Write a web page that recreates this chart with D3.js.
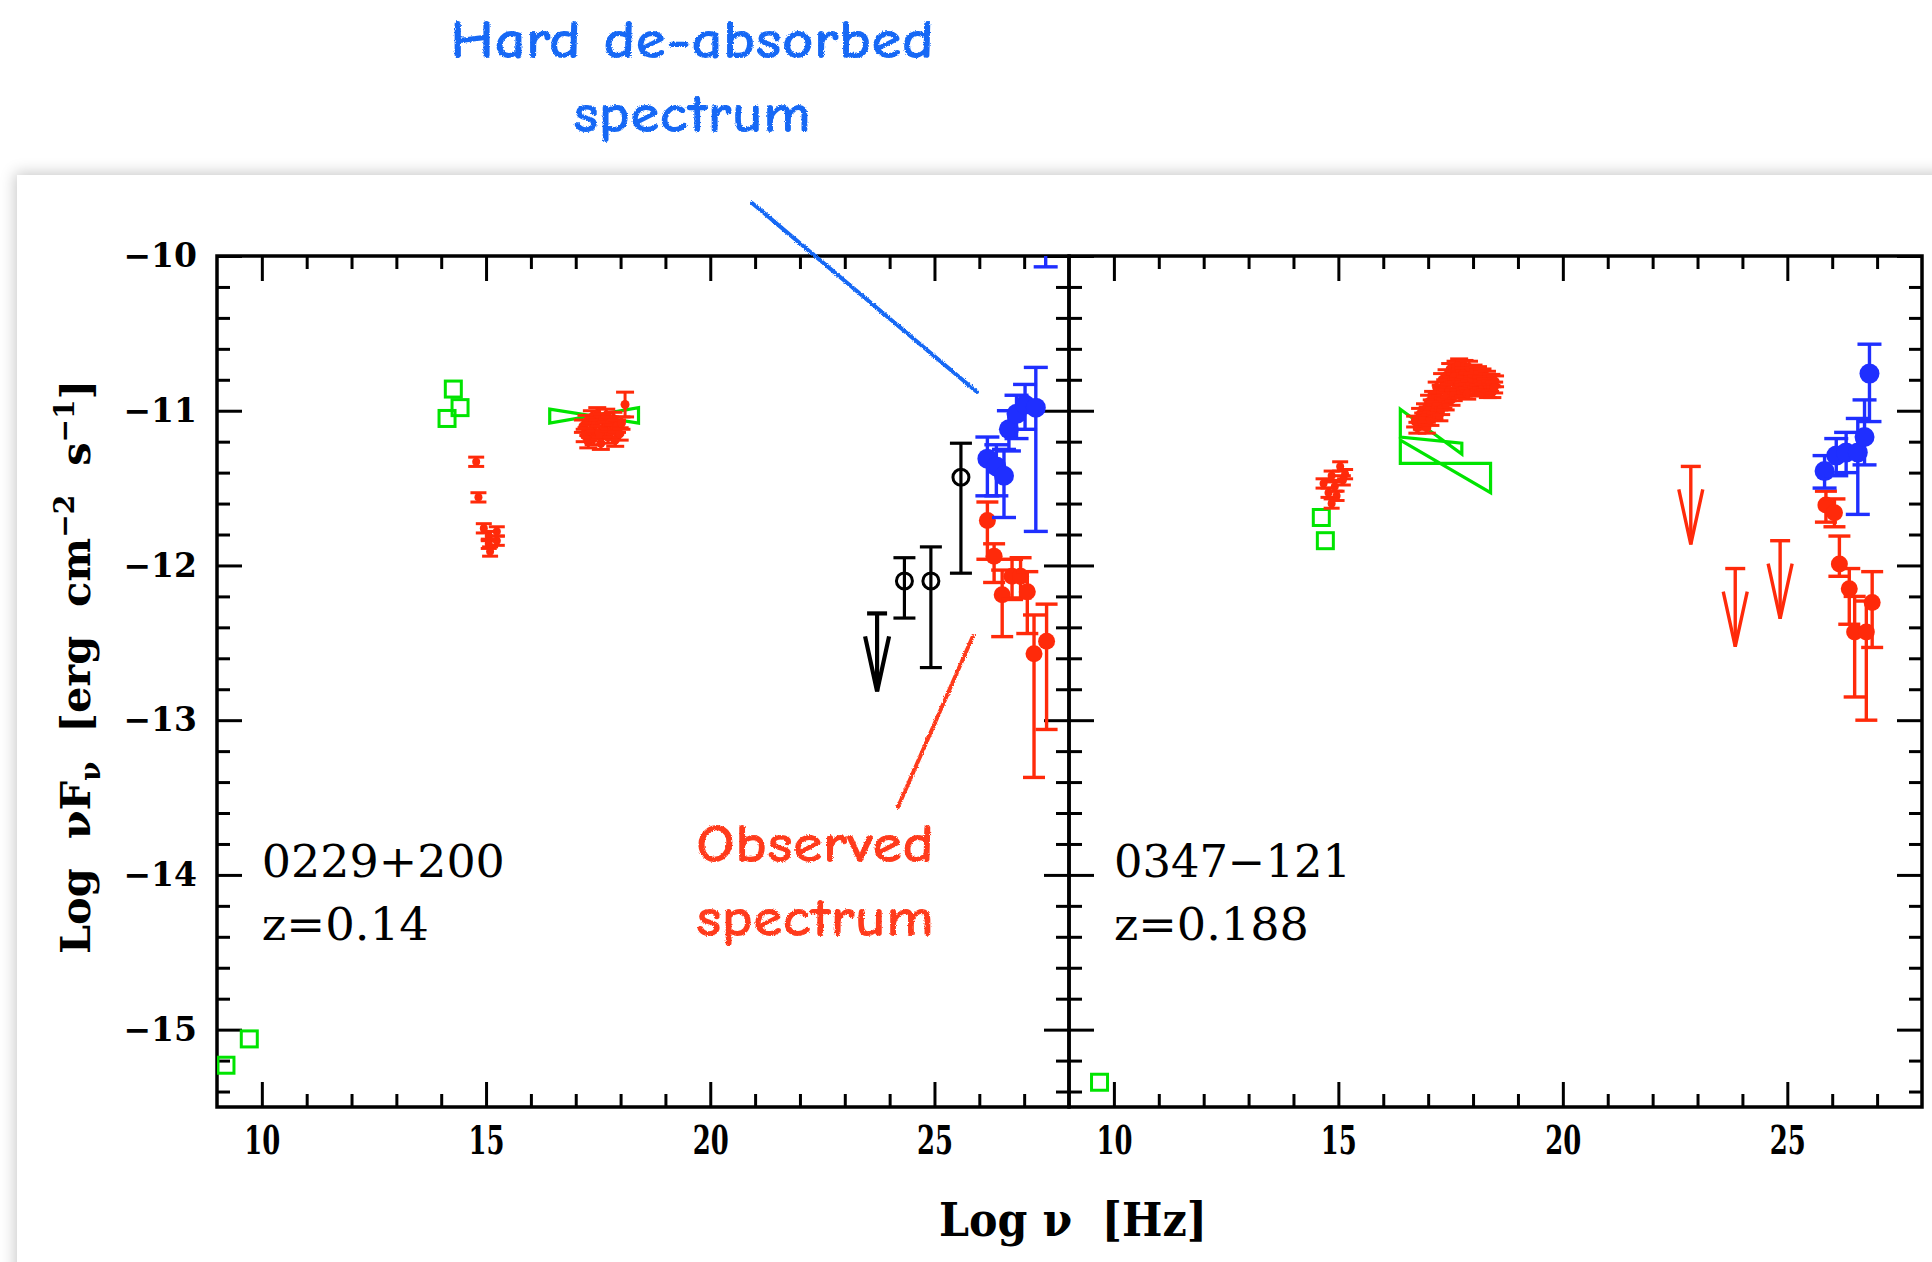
<!DOCTYPE html>
<html>
<head>
<meta charset="utf-8">
<script src="https://cdn.jsdelivr.net/npm/d3@7"></script>
<style>
  html, body { margin: 0; padding: 0; background: #fff; width: 1932px; height: 1262px; overflow: hidden; }
  #card { position: absolute; left: 17px; top: 175px; width: 2000px; height: 1200px; background: #fff;
          box-shadow: 0 0 14px 2px rgba(0,0,0,0.22); }
  svg { position: absolute; left: 0; top: 0; }
</style>
</head>
<body>
<div id="card"></div>
<svg id="chart" width="1932" height="1262"></svg>
<script>
// ---------- axes ----------
const xDomain = [9, 28];
const yDomain = [-15.5, -10];
const xTickLabels = [10, 15, 20, 25];
const yTickLabels = [-15, -14, -13, -12, -11, -10];

// ---------- 0229+200 ----------
const src1Name = "0229+200";
const src1Redshift = "z=0.14";
// radio / optical archival points [logNu, logNuFnu]
const src1Archival = [[14.13, -11.05], [14.27, -10.86], [14.42, -10.98], [9.20, -15.23], [9.72, -15.06]];
// X-ray bow-ties [x1, x2, yLeftTop, yLeftBottom, yRightTop, yRightBottom]
const src1Bowties = [[16.42, 18.40, -10.99, -11.08, -10.98, -11.08]];
// optical-UV [x, y, yLow, yHigh]
const src1Optical = [
  [14.78, -11.33, -11.36, -11.30], [14.83, -11.56, -11.59, -11.53], [14.95, -11.76, -11.79, -11.73],
  [15.24, -11.78, -11.81, -11.75], [15.06, -11.81, -11.84, -11.78], [15.24, -11.84, -11.87, -11.81],
  [15.06, -11.86, -11.89, -11.83], [15.09, -11.91, -11.94, -11.88]
];
// X-ray spectrum [x, y, yError]
const src1Xray = [
  [17.16, -11.10, 0.04], [17.20, -11.16, 0.04], [17.24, -11.07, 0.04], [17.28, -11.20, 0.04],
  [17.32, -11.13, 0.04], [17.36, -11.04, 0.04], [17.40, -11.18, 0.04], [17.44, -11.09, 0.04],
  [17.48, -11.02, 0.04], [17.52, -11.14, 0.04], [17.56, -11.21, 0.04], [17.60, -11.06, 0.04],
  [17.64, -11.12, 0.04], [17.68, -11.03, 0.04], [17.72, -11.17, 0.04], [17.76, -11.08, 0.04],
  [17.80, -11.13, 0.04], [17.84, -11.05, 0.04], [17.88, -11.19, 0.04], [17.92, -11.10, 0.04],
  [17.98, -11.15, 0.04], [18.02, -11.08, 0.04], [18.10, -10.96, 0.08]
];
// GeV points [x, y, yLow, yHigh] and upper limits [x, y]
const src1Gev = [[24.33, -12.10, -12.34, -11.95], [24.92, -12.10, -12.66, -11.88], [25.59, -11.43, -12.05, -11.21]];
const src1GevUL = [[23.72, -12.31]];
// TeV observed [x, y, yLow, yHigh]
const src1Observed = [
  [26.18, -11.71, -11.96, -11.59], [26.33, -11.94, -12.11, -11.86], [26.51, -12.19, -12.46, -12.03],
  [26.73, -12.07, -12.22, -11.96], [26.92, -12.07, -12.21, -11.95], [27.07, -12.17, -12.44, -12.04],
  [27.22, -12.57, -13.37, -12.32], [27.50, -12.49, -13.06, -12.25]
];
// TeV de-absorbed [x, y, yLow, yHigh]
const src1Deabsorbed = [
  [26.18, -11.31, -11.55, -11.17], [26.38, -11.36, -11.55, -11.22], [26.55, -11.42, -11.69, -11.25],
  [26.66, -11.12, -11.26, -11.00], [26.83, -11.02, -11.18, -10.90], [27.02, -10.96, -11.12, -10.83],
  [27.26, -10.98, -11.78, -10.72], [27.48, -9.72, -10.07, -9.40]
];

// ---------- 0347-121 ----------
const src2Name = "0347\u2212121";
const src2Redshift = "z=0.188";
const src2Archival = [[14.62, -11.69], [14.71, -11.84], [9.68, -15.34]];
const src2Bowties = [
  [16.38, 17.75, -10.99, -11.17, -11.21, -11.28],
  [16.38, 18.39, -11.19, -11.34, -11.34, -11.53]
];
const src2Optical = [
  [15.04, -11.36, -11.39, -11.33], [15.15, -11.41, -11.44, -11.38], [14.85, -11.42, -11.45, -11.39],
  [14.67, -11.47, -11.50, -11.44], [14.92, -11.49, -11.52, -11.46], [14.78, -11.53, -11.56, -11.50],
  [14.96, -11.55, -11.58, -11.52], [14.85, -11.60, -11.63, -11.57], [15.10, -11.45, -11.48, -11.42]
];
const src2Xray = [
  [16.71, -11.07, 0.035], [16.76, -11.11, 0.035],
  [16.82, -11.02, 0.035], [16.86, -11.08, 0.04],
  [16.93, -10.99, 0.035], [16.89, -11.05, 0.035], [16.97, -11.11, 0.035],
  [17.02, -10.94, 0.04], [16.99, -11.01, 0.035], [17.05, -11.06, 0.035],
  [17.11, -10.91, 0.035], [17.08, -10.97, 0.04], [17.14, -11.02, 0.035],
  [17.19, -10.85, 0.035], [17.23, -10.92, 0.04], [17.17, -10.98, 0.035], [17.25, -11.03, 0.035],
  [17.31, -10.80, 0.04], [17.28, -10.87, 0.035], [17.34, -10.95, 0.035], [17.29, -10.99, 0.035],
  [17.41, -10.77, 0.035], [17.38, -10.84, 0.04], [17.44, -10.90, 0.035], [17.39, -10.96, 0.035],
  [17.49, -10.73, 0.035], [17.53, -10.80, 0.035], [17.47, -10.87, 0.04], [17.52, -10.93, 0.035],
  [17.61, -10.72, 0.04], [17.58, -10.78, 0.035], [17.63, -10.85, 0.035], [17.57, -10.90, 0.035],
  [17.69, -10.70, 0.035], [17.72, -10.77, 0.04], [17.67, -10.83, 0.035], [17.73, -10.88, 0.035],
  [17.81, -10.71, 0.035], [17.78, -10.76, 0.035], [17.83, -10.82, 0.04], [17.79, -10.87, 0.035],
  [17.91, -10.72, 0.04], [17.88, -10.79, 0.035], [17.93, -10.84, 0.035], [17.87, -10.89, 0.035],
  [18.01, -10.74, 0.035], [17.98, -10.80, 0.04], [18.03, -10.86, 0.035],
  [18.11, -10.75, 0.035], [18.08, -10.81, 0.035], [18.13, -10.87, 0.035],
  [18.21, -10.77, 0.04], [18.18, -10.82, 0.035], [18.23, -10.86, 0.035],
  [18.31, -10.78, 0.035], [18.28, -10.83, 0.035], [18.33, -10.88, 0.035],
  [18.41, -10.80, 0.035], [18.38, -10.84, 0.035], [18.43, -10.88, 0.035],
  [18.49, -10.81, 0.035], [18.47, -10.85, 0.035]
];
const src2Gev = [];
const src2ObservedUL = [[22.85, -11.36], [23.84, -12.02], [24.84, -11.84]];
const src2Observed = [
  [25.86, -11.61, -11.72, -11.52], [26.05, -11.66, -11.75, -11.57], [26.16, -11.99, -12.07, -11.81],
  [26.38, -12.15, -12.38, -12.02], [26.50, -12.43, -12.85, -12.20], [26.76, -12.43, -13.00, -12.23],
  [26.89, -12.24, -12.53, -12.04]
];
const src2Deabsorbed = [
  [25.83, -11.39, -11.50, -11.29], [26.09, -11.29, -11.42, -11.18], [26.31, -11.27, -11.40, -11.14],
  [26.57, -11.27, -11.67, -11.05], [26.72, -11.17, -11.35, -10.93], [26.83, -10.76, -11.07, -10.57]
];

// ---------- layout ----------
const panelTop = 256, panelBottom = 1107;
const panels = [
  { left: 217, right: 1069, name: src1Name, z: src1Redshift, archival: src1Archival, bowties: src1Bowties,
    optical: src1Optical, xray: src1Xray, gev: src1Gev, gevUL: src1GevUL, obsUL: [],
    observed: src1Observed, deabs: src1Deabsorbed, yLabels: true },
  { left: 1069, right: 1922, name: src2Name, z: src2Redshift, archival: src2Archival, bowties: src2Bowties,
    optical: src2Optical, xray: src2Xray, gev: src2Gev, gevUL: [], obsUL: src2ObservedUL,
    observed: src2Observed, deabs: src2Deabsorbed, yLabels: false }
];

const GREEN = "#00e400", RED = "#ff2a0a", BLUE = "#1f2fff", BLACK = "#000";
const svg = d3.select("#chart");
const defs = svg.append("defs");

const rough = defs.append("filter").attr("id", "rough").attr("x", "-5%").attr("y", "-20%")
  .attr("width", "110%").attr("height", "140%");
rough.append("feTurbulence").attr("type", "fractalNoise").attr("baseFrequency", 0.9)
  .attr("numOctaves", 2).attr("seed", 3).attr("result", "noise");
rough.append("feDisplacementMap").attr("in", "SourceGraphic").attr("in2", "noise")
  .attr("scale", 3).attr("xChannelSelector", "R").attr("yChannelSelector", "G");

const y = d3.scaleLinear().domain(yDomain).range([panelBottom, panelTop]);

const xMinor = d3.range(10, 28).filter(v => v % 5 !== 0);
const yMinor = d3.range(-77, -50).map(k => k / 5).filter(v => Math.abs(v - Math.round(v)) > 1e-6);

function styleAxis(sel) {
  sel.select(".domain").remove();
  sel.selectAll(".tick line").attr("stroke", BLACK).attr("stroke-width", 3);
}

panels.forEach((p, i) => {
  const x = d3.scaleLinear().domain(xDomain).range([p.left, p.right]);
  const g = svg.append("g");

  // ticks on all four sides, pointing inward
  [[xMinor, 13], [xTickLabels, 25]].forEach(([vals, len]) => {
    g.append("g").attr("transform", `translate(0,${panelBottom})`)
      .call(d3.axisTop(x).tickValues(vals).tickSize(len).tickFormat("")).call(styleAxis);
    g.append("g").attr("transform", `translate(0,${panelTop})`)
      .call(d3.axisBottom(x).tickValues(vals).tickSize(len).tickFormat("")).call(styleAxis);
  });
  [[yMinor, 13], [yTickLabels, 25]].forEach(([vals, len]) => {
    g.append("g").attr("transform", `translate(${p.left},0)`)
      .call(d3.axisRight(y).tickValues(vals).tickSize(len).tickFormat("")).call(styleAxis);
    g.append("g").attr("transform", `translate(${p.right},0)`)
      .call(d3.axisLeft(y).tickValues(vals).tickSize(len).tickFormat("")).call(styleAxis);
  });

  // x tick labels
  const xl = g.append("g").attr("transform", `translate(0,${panelBottom})`)
    .call(d3.axisBottom(x).tickValues(xTickLabels).tickSize(0).tickPadding(19).tickFormat(d3.format("d")));
  xl.select(".domain").remove();
  xl.selectAll("text").attr("font-family", "DejaVu Serif").attr("font-weight", "bold")
    .attr("font-size", 40).attr("fill", BLACK).attr("textLength", 36).attr("lengthAdjust", "spacingAndGlyphs");

  if (p.yLabels) {
    const yl = g.append("g").attr("transform", `translate(${p.left},0)`)
      .call(d3.axisLeft(y).tickValues(yTickLabels).tickSize(0).tickPadding(20).tickFormat(d3.format("d")));
    yl.select(".domain").remove();
    yl.selectAll("text").attr("font-family", "DejaVu Serif").attr("font-weight", "bold")
      .attr("font-size", 33).attr("fill", BLACK);
  }

  // frame
  g.append("rect").attr("x", p.left).attr("y", panelTop)
    .attr("width", p.right - p.left).attr("height", panelBottom - panelTop)
    .attr("fill", "none").attr("stroke", BLACK).attr("stroke-width", 3.5);

  // data layer, clipped to the frame
  defs.append("clipPath").attr("id", "clip" + i).append("rect")
    .attr("x", p.left).attr("y", panelTop).attr("width", p.right - p.left).attr("height", panelBottom - panelTop);
  const d = g.append("g").attr("clip-path", `url(#clip${i})`);

  // bow-ties
  d.selectAll(".bow").data(p.bowties).join("path").attr("class", "bow")
    .attr("d", b => d3.line()([[x(b[0]), y(b[2])], [x(b[1]), y(b[5])], [x(b[1]), y(b[4])], [x(b[0]), y(b[3])]]) + "Z")
    .attr("fill", "none").attr("stroke", GREEN).attr("stroke-width", 3.2).attr("stroke-linejoin", "miter");

  // archival squares
  d.selectAll(".sq").data(p.archival).join("rect").attr("class", "sq")
    .attr("x", a => x(a[0]) - 8).attr("y", a => y(a[1]) - 8).attr("width", 16).attr("height", 16)
    .attr("fill", "none").attr("stroke", GREEN).attr("stroke-width", 3);

  function errPoints(data, color, r, cap, sw, open) {
    const pg = d.append("g");
    const pt = pg.selectAll("g").data(data).join("g");
    pt.append("line").attr("x1", e => x(e[0])).attr("x2", e => x(e[0]))
      .attr("y1", e => y(e[2])).attr("y2", e => y(e[3])).attr("stroke", color).attr("stroke-width", sw);
    [2, 3].forEach(k => {
      pt.append("line").attr("x1", e => x(e[0]) - cap).attr("x2", e => x(e[0]) + cap)
        .attr("y1", e => y(e[k])).attr("y2", e => y(e[k])).attr("stroke", color).attr("stroke-width", sw);
    });
    pt.append("circle").attr("cx", e => x(e[0])).attr("cy", e => y(e[1])).attr("r", r)
      .attr("fill", open ? "none" : color).attr("stroke", color).attr("stroke-width", open ? 3 : 0);
  }

  function upperLimits(data, color, sw) {
    const ug = d.append("g").attr("fill", "none").attr("stroke", color).attr("stroke-width", sw)
      .attr("stroke-linejoin", "miter");
    data.forEach(u => {
      const cx = x(u[0]), top = y(u[1]), tip = top + 78;
      ug.append("line").attr("x1", cx - 10).attr("x2", cx + 10).attr("y1", top).attr("y2", top);
      ug.append("line").attr("x1", cx).attr("x2", cx).attr("y1", top).attr("y2", tip);
      ug.append("path").attr("d", d3.line()([[cx - 12, tip - 55], [cx, tip], [cx + 12, tip - 55]]));
    });
  }

  const symErr = arr => arr.map(e => [e[0], e[1], e[1] - e[2], e[1] + e[2]]);

  errPoints(p.optical, RED, 4, 8, 3, false);
  errPoints(symErr(p.xray), RED, 4.5, 9, 3, false);
  errPoints(p.gev, BLACK, 8, 11, 3.2, true);
  upperLimits(p.gevUL, BLACK, 4.2);
  upperLimits(p.obsUL, RED, 3.4);
  errPoints(p.observed, RED, 8.5, 11, 3.4, false);
  errPoints(p.deabs, BLUE, 10, 12, 3.4, false);

  // source labels
  const lab = g.append("g").attr("font-family", "DejaVu Serif").attr("font-size", 44).attr("fill", BLACK);
  lab.append("text").attr("x", x(10)).attr("y", 877).attr("textLength", i === 0 ? 243 : 237)
    .attr("lengthAdjust", "spacingAndGlyphs").text(p.name);
  lab.append("text").attr("x", x(10)).attr("y", 940).attr("textLength", i === 0 ? 167 : 195)
    .attr("lengthAdjust", "spacingAndGlyphs").text(p.z);
});

// axis titles
svg.append("text").attr("x", 1073).attr("y", 1236).attr("text-anchor", "middle")
  .attr("font-family", "DejaVu Serif").attr("font-weight", "bold").attr("font-size", 46)
  .attr("textLength", 268).attr("lengthAdjust", "spacingAndGlyphs")
  .style("white-space", "pre").text("Log \u03bd  [Hz]");

const yt = svg.append("text").attr("transform", "translate(90,667) rotate(-90)").attr("text-anchor", "middle")
  .attr("font-family", "DejaVu Serif").attr("font-weight", "bold").attr("font-size", 41.5)
  .style("white-space", "pre");
yt.append("tspan").text("Log  \u03bdF");
yt.append("tspan").attr("font-size", 28).attr("dy", 10).text("\u03bd");
yt.append("tspan").attr("dy", -10).text("  [erg  cm");
yt.append("tspan").attr("font-size", 28).attr("dy", -16).text("\u22122");
yt.append("tspan").attr("dy", 16).text("  s");
yt.append("tspan").attr("font-size", 28).attr("dy", -16).text("\u22121");
yt.append("tspan").attr("dy", 16).text("]");

// hand-drawn annotations
const note = svg.append("g").attr("filter", "url(#rough)")
  .attr("font-family", "'Comic Sans MS', 'Comic Neue', Lato").attr("font-weight", "bold").attr("text-anchor", "middle");
const blueNote = "#1468f5", redNote = "#ff3b1c";
note.append("line").attr("x1", 752).attr("y1", 203).attr("x2", 977).attr("y2", 392)
  .attr("stroke", blueNote).attr("stroke-width", 4).attr("stroke-linecap", "round");
note.append("line").attr("x1", 973).attr("y1", 636).attr("x2", 898).attr("y2", 807)
  .attr("stroke", redNote).attr("stroke-width", 4).attr("stroke-linecap", "round");
note.append("text").attr("x", 692).attr("y", 58).attr("font-size", 54).attr("fill", blueNote)
  .attr("textLength", 484).attr("lengthAdjust", "spacingAndGlyphs").text("Hard de-absorbed");
note.append("text").attr("x", 692).attr("y", 132).attr("font-size", 54).attr("fill", blueNote)
  .attr("textLength", 238).attr("lengthAdjust", "spacingAndGlyphs").text("spectrum");
note.append("text").attr("x", 815).attr("y", 862).attr("font-size", 54).attr("fill", redNote)
  .attr("textLength", 238).attr("lengthAdjust", "spacingAndGlyphs").text("Observed");
note.append("text").attr("x", 815).attr("y", 936).attr("font-size", 54).attr("fill", redNote)
  .attr("textLength", 238).attr("lengthAdjust", "spacingAndGlyphs").text("spectrum");
</script>
</body>
</html>
